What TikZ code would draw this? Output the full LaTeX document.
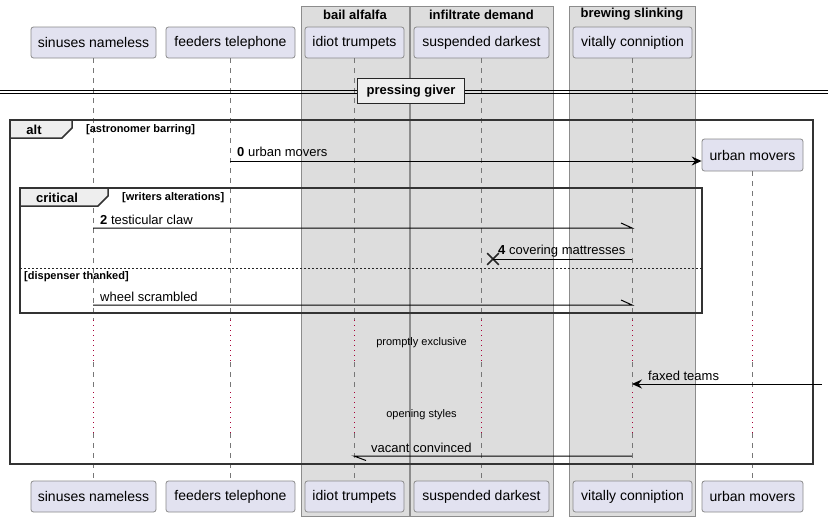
\documentclass[tikz,border=0pt]{standalone}
\usepackage{fontspec}
\setmainfont{Liberation Sans}
\usetikzlibrary{arrows.meta,shapes.misc}
\definecolor{partfill}{HTML}{E2E2F0}
\definecolor{partdraw}{HTML}{8A8A8A}
\definecolor{boxfill}{HTML}{DDDDDD}
\definecolor{boxdraw}{HTML}{8C8C8C}
\definecolor{delayred}{HTML}{A80036}
\definecolor{tabfill}{HTML}{EEEEEE}
\definecolor{lifegray}{HTML}{777777}
\tikzset{
  part/.style={draw=partdraw, fill=partfill, rounded corners=2.5pt, line width=0.8pt,
    minimum height=31pt, inner sep=0pt, font=\fontsize{14}{16}\selectfont},
  grpbox/.style={draw=boxdraw, fill=boxfill, line width=0.8pt},
  grptitle/.style={font=\bfseries\fontsize{13}{15}\selectfont, inner sep=0pt},
  life/.style={draw=lifegray, line width=0.6pt, dash pattern=on 5pt off 5pt},
  delayline/.style={draw=delayred, line width=0.8pt, dash pattern=on 1pt off 4pt},
  msg/.style={draw=black, line width=1pt},
  tip/.style={-{Stealth[length=10pt,width=9pt,inset=3.5pt]}},
  lbl/.style={font=\fontsize{13}{15}\selectfont, inner sep=0pt, anchor=base west},
  frameline/.style={draw=black!80, line width=1.5pt},
  tabbox/.style={draw=black!80, fill=tabfill, line width=1.5pt},
  framelbl/.style={font=\bfseries\fontsize{13}{15}\selectfont, inner sep=0pt},
  condlbl/.style={font=\bfseries\fontsize{11}{13}\selectfont, inner sep=0pt, anchor=west},
  delaylbl/.style={font=\fontsize{11}{13}\selectfont, inner sep=0pt},
}
\newcommand\mylifeline[2]{%
  \draw[life] (#1.south) -- (#1.south |- d1);
  \draw[delayline] (#1.south |- d1) -- (#1.south |- d2);
  \draw[life] (#1.south |- d2) -- (#1.south |- d3);
  \draw[delayline] (#1.south |- d3) -- (#1.south |- d4);
  \draw[life] (#1.south |- d4) -- (#2.north);}
\begin{document}
\begin{tikzpicture}[x=1pt,y=-1pt]
\useasboundingbox[fill=white] (0,0) rectangle (828,522);
% group boxes
\draw[grpbox] (301,6) rectangle (409,516);
\draw[grpbox] (410,6) rectangle (553,516);
\draw[grpbox] (569,6) rectangle (695,516);
\node[grptitle] (g1) at (355,14.5) {bail alfalfa};
\node[grptitle] (g2) at (481.5,14.5) {infiltrate demand};
\node[grptitle] (g3) at (632,14.5) {brewing slinking};
% delay coordinates
\coordinate (d1) at (0,320);
\coordinate (d2) at (0,362);
\coordinate (d3) at (0,392);
\coordinate (d4) at (0,433);
% participants
\node[part, minimum width=125pt] (sn1) at (93.5,42.5) {sinuses nameless};
\node[part, minimum width=129pt] (fe1) at (230.5,42.5) {feeders telephone};
\node[part, minimum width=99pt] (it1) at (354.5,42.5) {idiot trumpets};
\node[part, minimum width=135pt] (sd1) at (481.5,42.5) {suspended darkest};
\node[part, minimum width=119pt] (vc1) at (632.5,42.5) {vitally conniption};
\node[part, minimum width=101pt, minimum height=32pt] (um1) at (752.5,155) {urban movers};
\node[part, minimum width=125pt] (sn2) at (93.5,496.5) {sinuses nameless};
\node[part, minimum width=129pt] (fe2) at (230.5,496.5) {feeders telephone};
\node[part, minimum width=99pt] (it2) at (354.5,496.5) {idiot trumpets};
\node[part, minimum width=135pt] (sd2) at (481.5,496.5) {suspended darkest};
\node[part, minimum width=119pt] (vc2) at (632.5,496.5) {vitally conniption};
\node[part, minimum width=101pt] (um2) at (752.5,496.5) {urban movers};
% lifelines
\mylifeline{sn1}{sn2}
\mylifeline{fe1}{fe2}
\mylifeline{it1}{it2}
\mylifeline{sd1}{sd2}
\mylifeline{vc1}{vc2}
\mylifeline{um1}{um2}
% divider
\draw[line width=1pt] (0,90) -- (828,90);
\draw[line width=1pt] (0,93.5) -- (828,93.5);
\node[draw=black!85, fill=tabfill, line width=1.5pt, minimum width=107pt, minimum height=25pt,
  inner sep=0pt, font=\bfseries\fontsize{13}{15}\selectfont] (div) at (411,91) {pressing giver};
% alt frame
\draw[frameline] (10,120) rectangle (813,464);
\draw[tabbox] (10,120) -- (72,120) -- (72,128) -- (62,138) -- (10,138) -- cycle;
\node[framelbl] (altl) at (34,129.5) {alt};
\node[condlbl] (altc) at (86,130) {[astronomer barring]};
% message 0
\coordinate (m0a) at (230,161);
\draw[msg, tip] (m0a) -- (um1.west |- m0a);
\node[lbl] (l0) at (237,156) {\textbf{0} urban movers};
% critical frame
\draw[frameline] (20,188) rectangle (702,313);
\draw[tabbox] (20,188) -- (108,188) -- (108,196) -- (98,206) -- (20,206) -- cycle;
\node[framelbl] (critl) at (57,198) {critical};
\node[condlbl] (critc) at (122,198) {[writers alterations]};
% message 2
\coordinate (m2a) at (93,228);
\coordinate (m2b) at (632,228);
\draw[msg] (m2a) -- (m2b) -- ++(-11,-5);
\node[lbl] (l2) at (100,224) {\textbf{2} testicular claw};
% message 4
\coordinate (m4a) at (632,259);
\node[draw=black!85, cross out, minimum size=10pt, line width=1.6pt, inner sep=0pt] (x4) at (493,259) {};
\draw[msg] (m4a) -- (x4.center);
\node[lbl] (l4) at (498,254) {\textbf{4} covering mattresses};
% else separator
\draw[draw=black!85, line width=0.8pt, dash pattern=on 2pt off 2pt] (20,268) -- (702,268);
\node[condlbl] (elsec) at (24,277) {[dispenser thanked]};
% wheel scrambled
\coordinate (mwa) at (93,305);
\coordinate (mwb) at (632,305);
\draw[msg] (mwa) -- (mwb) -- ++(-11,-5);
\node[lbl] (lw) at (100,301) {wheel scrambled};
% delays
\node[delaylbl] (dl1) at (421.5,342.5) {promptly exclusive};
\node[delaylbl] (dl2) at (421.5,414.5) {opening styles};
% faxed teams
\coordinate (fxa) at (822,384);
\coordinate (fxb) at (632,384);
\draw[msg, tip] (fxa) -- (fxb);
\node[lbl] (lf) at (648,380) {faxed teams};
% vacant convinced
\coordinate (vca) at (632,456);
\coordinate (vcb) at (354,456);
\draw[msg] (vca) -- (vcb) -- ++(12,4.5);
\node[lbl] (lv) at (371,452) {vacant convinced};
\end{tikzpicture}
\end{document}
